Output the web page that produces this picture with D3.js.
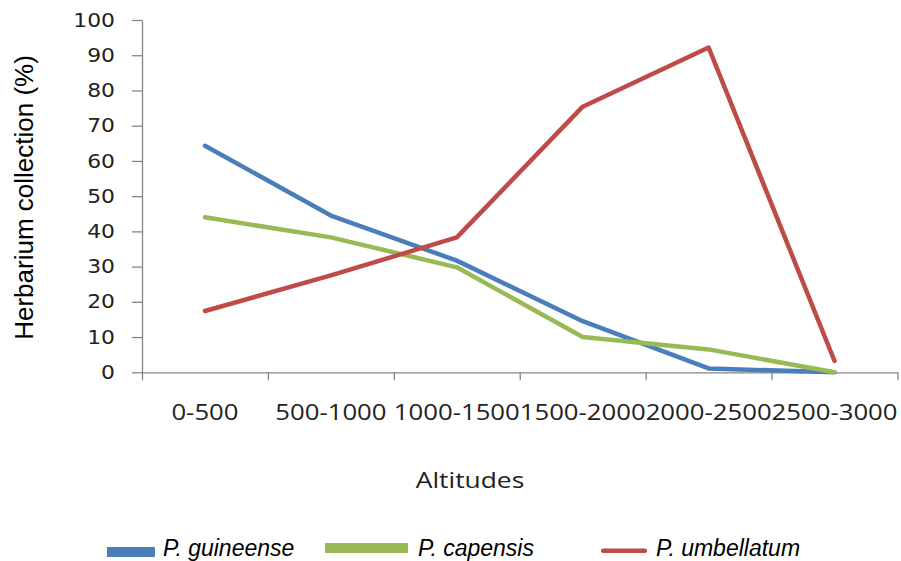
<!DOCTYPE html>
<html>
<head>
<meta charset="utf-8">
<script src="https://cdn.jsdelivr.net/npm/d3@7"></script>
<style>
  body { margin: 0; background: #fff; }
  svg { display: block; }
</style>
</head>
<body>
<div id="vis"></div>
<script>
// datos
const altitudes = ["0-500", "500-1000", "1000-1500", "1500-2000", "2000-2500", "2500-3000"];
const guineense = [64.3, 44.5, 31.7, 14.5, 1.1, 0];
const capensis = [44.0, 38.3, 29.8, 10.0, 6.5, 0];
const umbellatum = [17.4, 27.5, 38.3, 75.4, 92.2, 3.2];
const seriesNames = ["P. guineense", "P. capensis", "P. umbellatum"];
const seriesColors = ["#4A7EBB", "#98B954", "#BE4B48"];
const yTicks = [0, 10, 20, 30, 40, 50, 60, 70, 80, 90, 100];

function draw() {
  const width = 901;
  const height = 561;
  const margin = { left: 142, right: 3, top: 20, bottom: 189 };

  const svg = d3
    .select("#vis")
    .append("svg")
    .attr("width", width)
    .attr("height", height);

  const x = d3
    .scaleBand()
    .domain(altitudes)
    .range([margin.left, width - margin.right - 0.5]);

  // escala para las marcas entre categorias
  const xEdge = d3
    .scaleLinear()
    .domain([0, altitudes.length])
    .range(x.range());

  const y = d3
    .scaleLinear()
    .domain([0, 100])
    .range([height - margin.bottom + 0.3, margin.top]);

  const gray = "#868686";
  const textColor = "#222";

  // eje Y
  const yAxis = svg
    .append("g")
    .attr("transform", `translate(${margin.left},0)`)
    .call(d3.axisLeft(y).tickValues(yTicks).tickSize(10).tickSizeOuter(0));

  yAxis.select(".domain").attr("stroke", gray).attr("stroke-width", 1.3);
  yAxis.selectAll(".tick line").attr("stroke", gray).attr("stroke-width", 1.3);
  yAxis
    .selectAll(".tick text")
    .attr("x", -23.5)
    .attr("transform", "scale(1.15,1)")
    .style("font-family", "DejaVu Sans")
    .style("font-size", "19px")
    .attr("fill", textColor);

  // eje X: marcas en los limites
  const xTicksAxis = svg
    .append("g")
    .attr("transform", `translate(0,${y(0)})`)
    .call(
      d3
        .axisBottom(xEdge)
        .ticks(altitudes.length)
        .tickSize(8)
        .tickSizeOuter(0)
        .tickFormat("")
    );
  xTicksAxis.select(".domain").attr("stroke", gray).attr("stroke-width", 1.3);
  xTicksAxis.selectAll(".tick line").attr("stroke", gray).attr("stroke-width", 1.3);

  // etiquetas X
  const xLabels = svg
    .append("g")
    .attr("transform", `translate(0,${y(0)})`)
    .call(d3.axisBottom(x).tickSize(0));
  xLabels.select(".domain").remove();
  xLabels
    .selectAll(".tick text")
    .attr("y", 48)
    .attr("dy", 0)
    .attr("transform", "scale(1.17,1)")
    .style("font-family", "Open Sans")
    .style("font-size", "22px")
    .attr("fill", textColor);

  // titulos
  svg
    .append("text")
    .attr("transform", "translate(470,488) scale(1.2,1)")
    .attr("text-anchor", "middle")
    .style("font-family", "Open Sans")
    .style("font-size", "22px")
    .attr("fill", textColor)
    .text("Altitudes");

  svg
    .append("text")
    .attr("transform", "translate(33,197.5) rotate(-90)")
    .attr("text-anchor", "middle")
    .style("font-family", "Liberation Sans")
    .style("font-size", "26px")
    .attr("fill", "#000")
    .text("Herbarium collection (%)");

  // lineas
  const allSeries = [guineense, capensis, umbellatum];
  const line = d3
    .line()
    .x((_d, i) => x(altitudes[i]) + x.bandwidth() / 2)
    .y((d) => y(d));

  svg
    .selectAll("path.serie")
    .data(allSeries)
    .enter()
    .append("path")
    .attr("class", "serie")
    .attr("d", line)
    .attr("fill", "none")
    .attr("stroke", (_d, i) => seriesColors[i])
    .attr("stroke-width", 4.5)
    .attr("stroke-linejoin", "round")
    .attr("stroke-linecap", "round");

  // leyenda (las muestras tienen grosores distintos como en el original)
  const legendItems = [
    { x0: 107, x1: 155, y0: 547, h: 10, tx: 163 },
    { x0: 325, x1: 408, y0: 543, h: 10, tx: 418 },
    { x0: 601, x1: 647, y0: 548.5, h: 4.5, tx: 656 }
  ];

  const legend = svg
    .selectAll("g.legend")
    .data(seriesNames)
    .enter()
    .append("g")
    .attr("class", "legend");

  legend
    .append("rect")
    .attr("x", (_d, i) => legendItems[i].x0)
    .attr("y", (_d, i) => legendItems[i].y0)
    .attr("width", (_d, i) => legendItems[i].x1 - legendItems[i].x0)
    .attr("height", (_d, i) => legendItems[i].h)
    .attr("rx", (_d, i) => (i === 2 ? 2 : 0))
    .attr("fill", (_d, i) => seriesColors[i]);

  legend
    .append("text")
    .attr("x", (_d, i) => legendItems[i].tx)
    .attr("y", 556)
    .style("font-family", "Liberation Sans")
    .style("font-style", "italic")
    .style("font-size", "23px")
    .attr("fill", "#000")
    .text((d) => d);
}

draw();
</script>
</body>
</html>
